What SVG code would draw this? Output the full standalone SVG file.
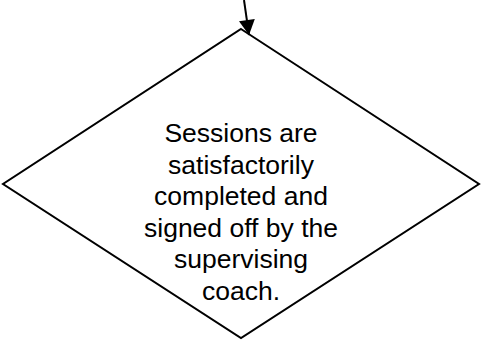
<svg xmlns="http://www.w3.org/2000/svg" width="482" height="343" viewBox="0 0 482 343">
<style>
.shape{fill:#fff;stroke:#000;stroke-width:2}
.conn{fill:none;stroke:#000;stroke-width:2}
.lbl{font-family:"Liberation Sans",Arial,sans-serif;font-size:26.5px;fill:#000;text-anchor:middle}
</style>
<defs>
<marker id="arr" markerUnits="userSpaceOnUse" markerWidth="16" markerHeight="16" viewBox="0 0 15 16" refX="15" refY="8" orient="auto">
<path d="M0,0 L15,8 L0,16 Z" fill="#000"/>
</marker>
</defs>
<g id="node-decision">
<polygon class="shape" points="241,29 479,184 241,338 3,184"/>
<text class="lbl" x="241" y="142">Sessions are</text>
<text class="lbl" x="241" y="173.5">satisfactorily</text>
<text class="lbl" x="241" y="205">completed and</text>
<text class="lbl" x="241" y="236.5">signed off by the</text>
<text class="lbl" x="241" y="268">supervising</text>
<text class="lbl" x="241" y="299.5">coach.</text>
</g>
<g id="connectors">
<line class="conn" x1="244" y1="0" x2="249" y2="35" marker-end="url(#arr)"/>
</g>
</svg>
